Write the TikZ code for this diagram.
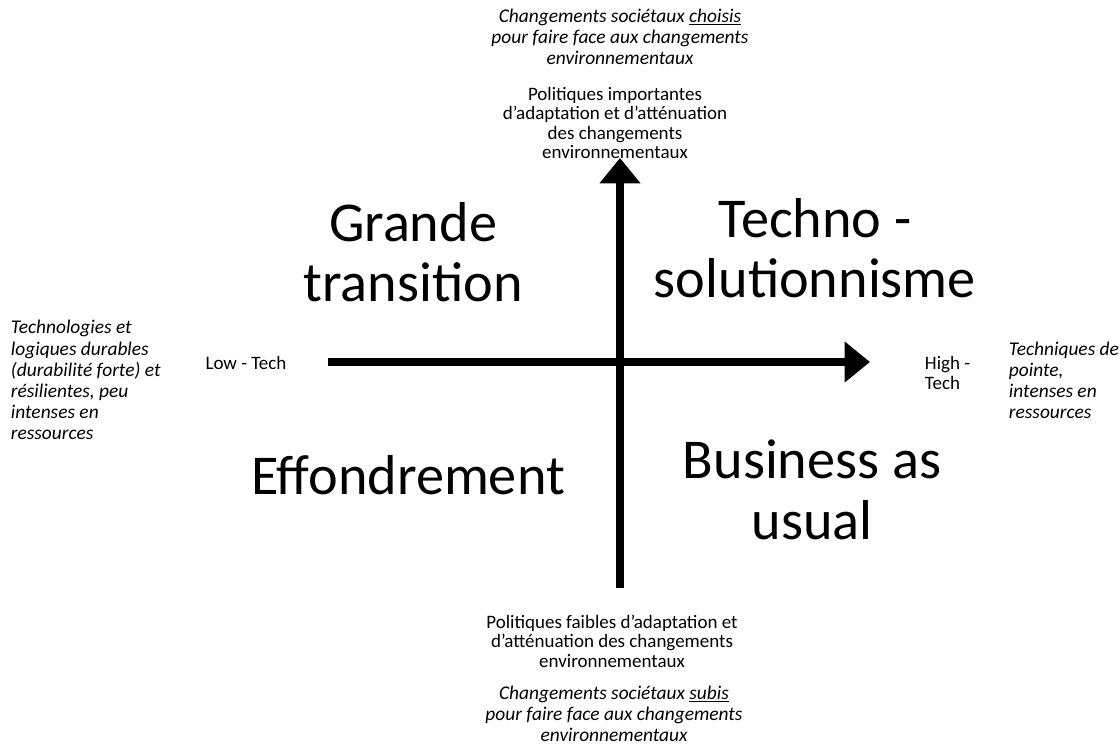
\documentclass[tikz,border=0pt]{standalone}
\usepackage{fontspec}
\setmainfont{Carlito}
\usetikzlibrary{arrows.meta}

\tikzset{
  smalltext/.style={align=center, font=\fontsize{13.5}{13.8}\selectfont},
  notetext/.style={align=center, font=\fontsize{13.8}{15}\selectfont\itshape},
  bigtext/.style={align=center, font=\fontsize{40}{43}\selectfont},
  axis/.style={line width=5pt, -{Triangle[length=18pt,width=28pt]}}
}

\begin{document}
\begin{tikzpicture}[x=0.025cm,y=-0.025cm]
        \useasboundingbox (0,0) rectangle (1120,748);
        % axes
        \coordinate (bottom) at (620,588);
        \coordinate (top) at (620,158);
        \coordinate (left) at (328,362);
        \coordinate (right) at (870,362);
        \draw[axis] (left) -- (right);
        \draw[axis] (bottom) -- (top);
        % vertical axis, top
        \node[notetext] (topnote) at (620,37) {Changements sociétaux \underline{choisis}\\pour faire face aux changements\\environnementaux};
        \node[smalltext] (toplabel) at (615,123) {Politiques importantes\\d’adaptation et d’atténuation\\des changements\\environnementaux};
        % vertical axis, bottom
        \node[smalltext] (bottomlabel) at (612,641) {Politiques faibles d’adaptation et\\d’atténuation des changements\\environnementaux};
        \node[notetext] (bottomnote) at (614,714) {Changements sociétaux \underline{subis}\\pour faire face aux changements\\environnementaux};
        % horizontal axis, left
        \node[smalltext] (lowtech) at (246,363) {Low - Tech};
        \node[notetext, align=left, anchor=west] (lownote) at (6,380) {Technologies et\\logiques durables\\(durabilité forte) et\\résilientes, peu\\intenses en\\ressources};
        % horizontal axis, right
        \node[smalltext, align=left, anchor=west] (hightech) at (920,373) {High -\\Tech};
        \node[notetext, align=left, anchor=west] (highnote) at (1004,380) {Techniques de\\pointe,\\intenses en\\ressources};
        % quadrants
        \node[bigtext] (grande) at (413,252) {Grande\\transition};
        \node[bigtext] (techno) at (815,248) {Techno -\\solutionnisme};
        \node[bigtext] (effondrement) at (408,475) {Effondrement};
        \node[bigtext] (business) at (812,490) {Business as\\usual};
    \end{tikzpicture}
\end{document}
